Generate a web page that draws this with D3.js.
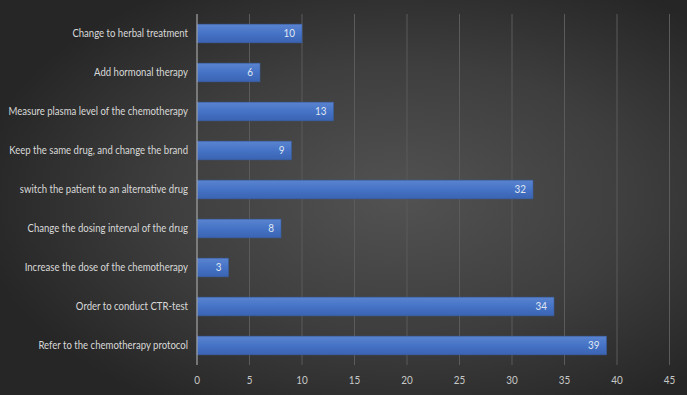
<!DOCTYPE html>
<html>
<head>
<meta charset="utf-8">
<script src="https://cdn.jsdelivr.net/npm/d3@7"></script>
<style>
  body { margin: 0; background: #262626; }
  svg { display: block; }
</style>
</head>
<body>
<script>
let width = 687,
    height = 395;

// data, top to bottom
let categories = [
  "Change to herbal treatment",
  "Add hormonal therapy",
  "Measure plasma level of the chemotherapy",
  "Keep the same drug, and change the brand",
  "switch the patient to an alternative drug",
  "Change the dosing interval of the drug",
  "Increase the dose of the chemotherapy",
  "Order to conduct CTR-test",
  "Refer to the chemotherapy protocol"
];
let counts = [10, 6, 13, 9, 32, 8, 3, 34, 39];
let xTicks = [0, 5, 10, 15, 20, 25, 30, 35, 40, 45];

let margin = {top: 14, right: 18, bottom: 30, left: 197};

let svg = d3.select("body").append("svg")
    .attr("width", width)
    .attr("height", height)
    .style("font-family", "Lato, 'Open Sans', sans-serif");

let defs = svg.append("defs");

// dark radial background, lighter towards the middle
let bg = defs.append("radialGradient")
    .attr("id", "bg")
    .attr("cx", "0.58").attr("cy", "0.5")
    .attr("r", "0.62");
bg.append("stop").attr("offset", "0%").attr("stop-color", "#515251");
bg.append("stop").attr("offset", "55%").attr("stop-color", "#3d3e3d");
bg.append("stop").attr("offset", "100%").attr("stop-color", "#262626");

let barGrad = defs.append("linearGradient")
    .attr("id", "barGrad")
    .attr("x1", 0).attr("y1", 0).attr("x2", 0).attr("y2", 1);
barGrad.append("stop").attr("offset", "0%").attr("stop-color", "#5a84d0");
barGrad.append("stop").attr("offset", "50%").attr("stop-color", "#4673c6");
barGrad.append("stop").attr("offset", "100%").attr("stop-color", "#3a63b2");

svg.append("rect")
    .attr("width", width)
    .attr("height", height)
    .attr("fill", "url(#bg)");

let x = d3.scaleLinear()
    .domain([0, 45])
    .range([margin.left, 669.5]);

let y = d3.scaleBand()
    .domain(categories)
    .range([margin.top, 365])
    .paddingInner(0.52)
    .paddingOuter(0.26);

// gridlines
svg.append("g")
  .selectAll("line")
  .data(xTicks.slice(1))
  .enter().append("line")
    .attr("x1", d => x(d)).attr("x2", d => x(d))
    .attr("y1", margin.top).attr("y2", 365)
    .attr("stroke", "#5a5b5a")
    .attr("stroke-width", 1);

// bars
svg.append("g")
  .selectAll("rect")
  .data(counts)
  .enter().append("rect")
    .attr("x", x(0))
    .attr("y", (d, i) => y(categories[i]))
    .attr("width", d => x(d) - x(0))
    .attr("height", y.bandwidth())
    .attr("fill", "url(#barGrad)")
    .attr("stroke", "#3a5e9e")
    .attr("stroke-width", 0.6);

// value labels inside the bar end
svg.append("g")
  .selectAll("text")
  .data(counts)
  .enter().append("text")
    .attr("transform", (d, i) => "translate(" + (x(d) - 7) + "," + (y(categories[i]) + y.bandwidth() / 2) + ") scale(0.9,1)")
    .attr("dy", "0.36em")
    .attr("text-anchor", "end")
    .attr("fill", "#dfe6f2")
    .style("font-size", "11px")
    .text(d => d);

// vertical axis line
svg.append("line")
    .attr("x1", x(0)).attr("x2", x(0))
    .attr("y1", margin.top).attr("y2", 365)
    .attr("stroke", "#a6a6a6")
    .attr("stroke-width", 1.2);

// category labels (Lato is wider than the original font, so squeeze it)
svg.append("g")
  .selectAll("text")
  .data(categories)
  .enter().append("text")
    .attr("transform", d => "translate(" + (x(0) - 9) + "," + (y(d) + y.bandwidth() / 2) + ") scale(0.87,1)")
    .attr("dy", "0.36em")
    .attr("text-anchor", "end")
    .attr("fill", "#d9d9d9")
    .style("font-size", "11px")
    .text(d => d);

// x tick labels
svg.append("g")
  .selectAll("text")
  .data(xTicks)
  .enter().append("text")
    .attr("transform", d => "translate(" + x(d) + ",380) scale(0.9,1)")
    .attr("dy", "0.36em")
    .attr("text-anchor", "middle")
    .attr("fill", "#c8c8c8")
    .style("font-size", "11px")
    .text(d => d);
</script>
</body>
</html>
